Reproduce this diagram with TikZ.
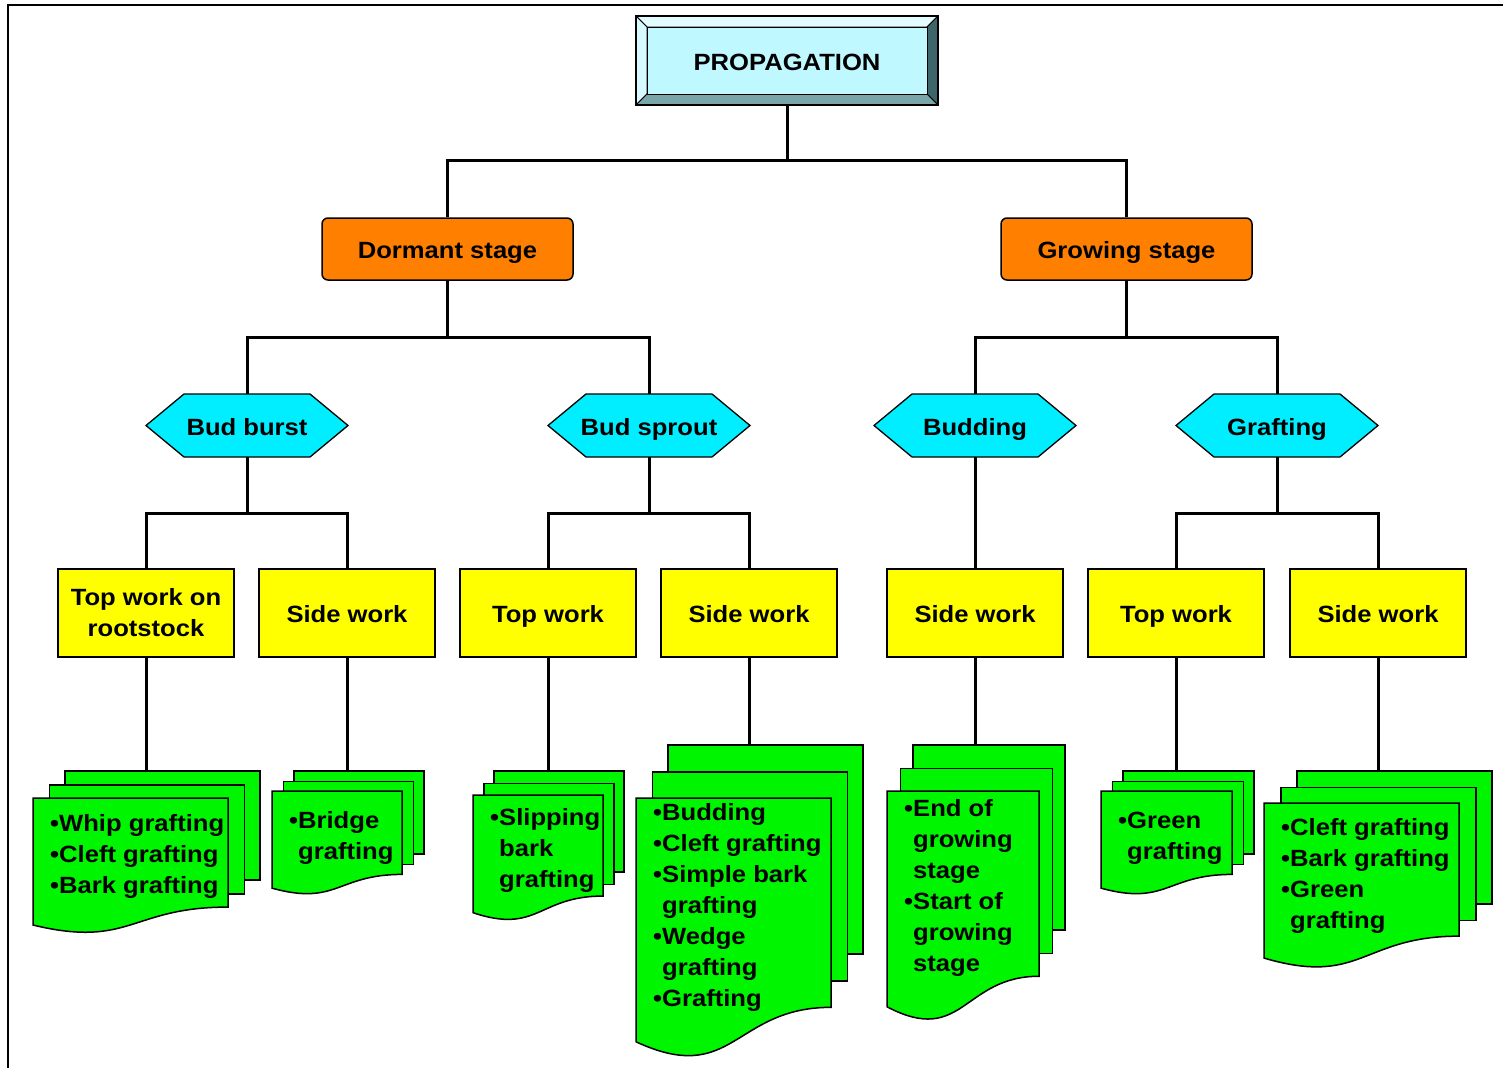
\documentclass[tikz,border=0pt]{standalone}
\usepackage{fontspec}
\newfontfamily\lab{Liberation Sans}[FakeStretch=1.09]
\definecolor{orng}{RGB}{255,128,0}
\definecolor{cyn}{RGB}{0,238,255}
\definecolor{yel}{RGB}{255,255,0}
\definecolor{grn}{RGB}{0,245,0}
\definecolor{face}{RGB}{192,248,255}
\definecolor{bevtop}{RGB}{226,252,255}
\definecolor{bevleft}{RGB}{214,250,255}
\definecolor{bevright}{RGB}{62,102,106}
\definecolor{bevbot}{RGB}{122,166,170}
\tikzset{
  conn/.style={draw=black, line width=3pt},
  lbl/.style={font=\lab\bfseries\fontsize{23.5}{31}\selectfont},
  onel/.style={text height=19pt, text depth=0pt},
  orangebox/.style={lbl, onel, draw, line width=1.5pt, fill=orng, rounded corners=6pt, minimum width=251, minimum height=62, inner sep=0},
  hexlab/.style={lbl, onel, minimum width=202, minimum height=63, inner sep=0},
  hexfill/.style={fill=cyn, draw, line width=1.3pt, line join=miter},
  ybox/.style={lbl, draw, line width=1.2pt, fill=yel, minimum width=176, minimum height=88, align=center, inner sep=0},
  ysingle/.style={ybox, onel},
  page/.style={draw, line width=1.5pt, fill=grn, inner sep=0, anchor=north west},
  pagefill/.style={draw, line width=1.5pt, fill=grn},
  doctext/.style={lbl, align=left, inner sep=0, anchor=north west},
  bevel/.style={draw=black, line width=0.8pt},
}
% multi-document: name, x0, y0, w, h, dx, dy, first-baseline offset, text
\newcommand\mdoc[9]{%
  \node[page, minimum width=#4, minimum height={0.802*#5}] (#1b) at ({#2+2*#6},{#3-2*#7}) {};
  \node[page, minimum width=#4, minimum height={0.802*#5}] (#1m) at ({#2+#6},{#3-#7}) {};
  \path[pagefill] (#2,#3) -- ({#2+#4},#3) -- ({#2+#4},{#3+0.802*#5})
     .. controls ({#2+#4/2},{#3+0.802*#5}) and ({#2+#4/2},{#3+1.107*#5}) .. (#2,{#3+0.934*#5}) -- cycle;
  \node[doctext] (#1t) at ({#2+17},{#3+#8-20}) {\rule{0pt}{20pt}#9};
}
% hexagon: name, cx, cy, text
\newcommand\hexa[4]{%
  \path[hexfill] ({#2-101},#3) -- ({#2-63},{#3-31.5}) -- ({#2+63},{#3-31.5}) -- ({#2+101},#3)
     -- ({#2+63},{#3+31.5}) -- ({#2-63},{#3+31.5}) -- cycle;
  \node[hexlab] (#1) at (#2,#3) {#4};
}
\begin{document}
\begin{tikzpicture}[x=1pt,y=-1pt]
\useasboundingbox (0,0) rectangle (1503,1068);
\fill[white] (0,0) rectangle (1503,1068);
% frame
\draw[line width=2pt] (8,1068) -- (8,5) -- (1503,5);

% PROPAGATION bevel box
\path[bevel, fill=bevtop] (636,16) -- (938,16) -- (927,27) -- (647,27) -- cycle;
\path[bevel, fill=bevleft] (636,16) -- (647,27) -- (647,94) -- (636,105) -- cycle;
\path[bevel, fill=bevright] (938,16) -- (938,105) -- (927,94) -- (927,27) -- cycle;
\path[bevel, fill=bevbot] (636,105) -- (938,105) -- (927,94) -- (647,94) -- cycle;
\path[bevel, fill=face] (647,27) rectangle (927,94);
\draw[line width=1.5pt] (636,16) rectangle (938,105);
\node[lbl, onel, minimum width=302, minimum height=89, inner sep=0] (prop) at (787,60.5) {PROPAGATION};

% stages
\node[orangebox] (dorm) at (447.5,249) {Dormant stage};
\node[orangebox] (grow) at (1126.5,249) {Growing stage};

% hexagons
\hexa{bb}{247}{425.5}{Bud burst}
\hexa{bs}{649}{425.5}{Bud sprout}
\hexa{bd}{975}{425.5}{Budding}
\hexa{gf}{1277}{425.5}{Grafting}

% yellow boxes
\node[ybox] (y1) at (146,613) {\raisebox{-2pt}{Top work on}\\\raisebox{-2pt}{rootstock}};
\node[ysingle] (y2) at (347,613) {Side work};
\node[ysingle] (y3) at (548,613) {Top work};
\node[ysingle] (y4) at (749,613) {Side work};
\node[ysingle] (y5) at (975,613) {Side work};
\node[ysingle] (y6) at (1176,613) {Top work};
\node[ysingle] (y7) at (1378,613) {Side work};

% documents
\mdoc{d1}{33}{798}{195}{136}{15.5}{14}{33}{•Whip grafting\\•Cleft grafting\\•Bark grafting}
\mdoc{d2}{272}{791}{130}{104}{10.5}{10.5}{37}{•Bridge\\\phantom{•}grafting}
\mdoc{d3}{473}{795}{130}{126}{10}{12.5}{30}{•Slipping\\\phantom{•}bark\\\phantom{•}grafting}
\mdoc{d4}{636}{798}{195}{261}{15.5}{27}{22}{•Budding\\•Cleft grafting\\•Simple bark\\\phantom{•}grafting\\•Wedge\\\phantom{•}grafting\\•Grafting}
\mdoc{d5}{887}{791}{152}{231}{12.5}{23.5}{25}{•End of\\\phantom{•}growing\\\phantom{•}stage\\•Start of\\\phantom{•}growing\\\phantom{•}stage}
\mdoc{d6}{1101}{791}{131}{104}{10.5}{10.5}{37}{•Green\\\phantom{•}grafting}
\mdoc{d7}{1264}{803}{195}{166}{16}{16.5}{32}{•Cleft grafting\\•Bark grafting\\•Green\\\phantom{•}grafting}

% connectors
\draw[conn] (prop.south) -- ++(0,55) coordinate (j0);
\draw[conn] (dorm.north) |- (j0) -| (grow.north);
\draw[conn] (dorm.south) -- ++(0,57) coordinate (j1);
\draw[conn] (bb.north) |- (j1) -| (bs.north);
\draw[conn] (grow.south) -- ++(0,57) coordinate (j2);
\draw[conn] (bd.north) |- (j2) -| (gf.north);
\draw[conn] (bb.south) -- ++(0,56) coordinate (j3);
\draw[conn] (y1.north) |- (j3) -| (y2.north);
\draw[conn] (bs.south) -- ++(0,56) coordinate (j4);
\draw[conn] (y3.north) |- (j4) -| (y4.north);
\draw[conn] (bd.south) -- (y5.north);
\draw[conn] (gf.south) -- ++(0,56) coordinate (j5);
\draw[conn] (y6.north) |- (j5) -| (y7.north);
\draw[conn] (y1.south) -- (y1.south |- d1b.north);
\draw[conn] (y2.south) -- (y2.south |- d2b.north);
\draw[conn] (y3.south) -- (y3.south |- d3b.north);
\draw[conn] (y4.south) -- (y4.south |- d4b.north);
\draw[conn] (y5.south) -- (y5.south |- d5b.north);
\draw[conn] (y6.south) -- (y6.south |- d6b.north);
\draw[conn] (y7.south) -- (y7.south |- d7b.north);
\end{tikzpicture}
\end{document}
